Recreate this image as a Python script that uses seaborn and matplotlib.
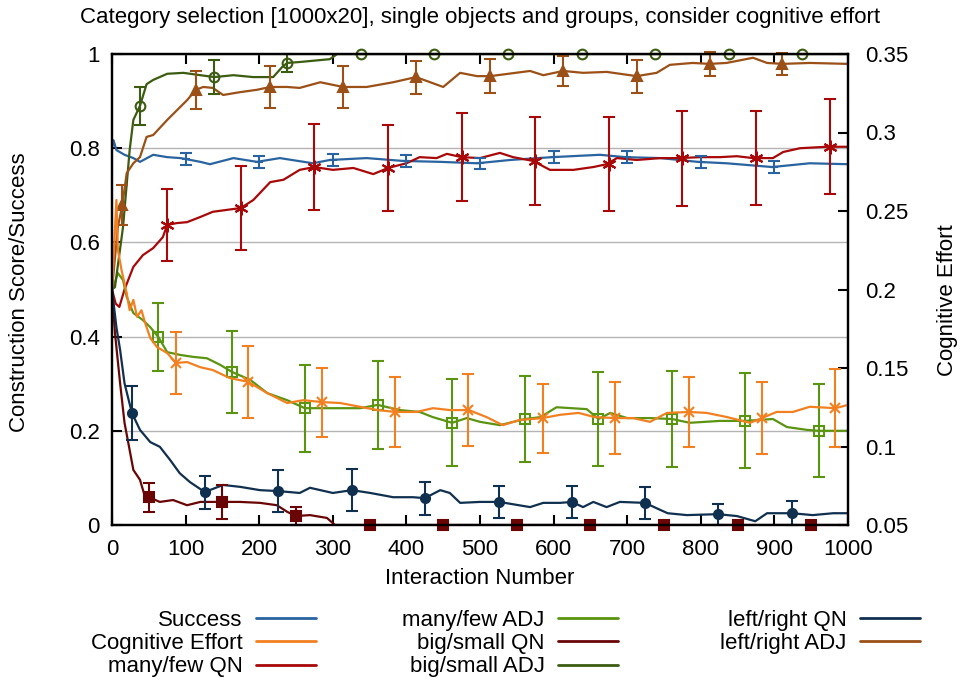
import matplotlib
matplotlib.use("Agg")
import matplotlib.pyplot as plt
from matplotlib.lines import Line2D
import seaborn as sns
import pandas as pd

sns.set_theme(style="white")
plt.rcParams['font.family'] = ['Liberation Sans', 'DejaVu Sans']
plt.rcParams['text.color'] = 'black'
plt.rcParams['axes.labelcolor'] = 'black'
FS = 16

# ---- data -------------------------------------------------------------
# Success (left axis)
success_x = [0, 2, 6, 17, 29, 38, 56, 75, 93, 100, 120, 133, 165, 197, 228, 273, 296, 346,
             395, 446, 496, 541, 598, 663, 697, 745, 796, 835, 897, 948, 1000]
success_y = [0.80, 0.817, 0.796, 0.786, 0.779, 0.771, 0.786, 0.781, 0.779, 0.777, 0.771, 0.766,
             0.779, 0.771, 0.779, 0.768, 0.775, 0.779, 0.773, 0.771, 0.768, 0.775, 0.781, 0.786,
             0.781, 0.779, 0.771, 0.768, 0.760, 0.768, 0.766]
success_px = [100, 200, 300, 400, 500, 600, 700, 800, 900]
success_py = [0.777, 0.771, 0.775, 0.773, 0.768, 0.781, 0.781, 0.771, 0.760]
success_err = [0.012, 0.012, 0.012, 0.012, 0.012, 0.012, 0.012, 0.012, 0.012]

# Cognitive effort (right axis)
effort_x = [0, 6, 8, 13, 20, 24, 29, 34, 40, 45, 52, 61, 75, 87, 102, 120, 137, 160, 185, 211,
            238, 260, 285, 310, 337, 361, 385, 414, 436, 459, 485, 509, 531, 554, 585, 609, 634,
            656, 684, 708, 731, 754, 784, 808, 836, 867, 883, 903, 925, 948, 983, 1000]
effort_y = [0.2000, 0.2570, 0.2252, 0.2123, 0.1976, 0.1868, 0.1934, 0.1826, 0.1868, 0.1787,
            0.1691, 0.1634, 0.1595, 0.1532, 0.1538, 0.1505, 0.1487, 0.1436, 0.1412, 0.1340,
            0.1277, 0.1295, 0.1283, 0.1277, 0.1253, 0.1232, 0.1220, 0.1220, 0.1244, 0.1232,
            0.1232, 0.1187, 0.1136, 0.1169, 0.1181, 0.1202, 0.1214, 0.1187, 0.1181, 0.1181,
            0.1157, 0.1214, 0.1220, 0.1214, 0.1187, 0.1151, 0.1181, 0.1220, 0.1220, 0.1253,
            0.1244, 0.1265]
effort_px = [87, 185, 285, 385, 484, 585, 684, 784, 883, 983]
effort_py = [0.1532, 0.1412, 0.1283, 0.1220, 0.1232, 0.1181, 0.1181, 0.1220, 0.1181, 0.1244]
effort_err = [0.020, 0.023, 0.022, 0.022, 0.023, 0.022, 0.023, 0.022, 0.023, 0.025]

# many/few QN
mfq_x = [0, 5, 10, 17, 29, 42, 56, 69, 75, 88, 102, 120, 137, 175, 192, 215, 233, 255, 275, 300,
         328, 355, 375, 400, 418, 441, 455, 475, 500, 527, 545, 572, 595, 627, 654, 672, 686, 713,
         745, 771, 799, 826, 849, 871, 898, 912, 935, 971, 1000]
mfq_y = [0.5, 0.47, 0.463, 0.50, 0.548, 0.573, 0.588, 0.611, 0.637, 0.641, 0.643, 0.654, 0.665,
         0.673, 0.690, 0.728, 0.733, 0.754, 0.760, 0.754, 0.758, 0.745, 0.758, 0.768, 0.781,
         0.779, 0.788, 0.781, 0.779, 0.790, 0.781, 0.773, 0.754, 0.754, 0.760, 0.766, 0.779,
         0.775, 0.779, 0.779, 0.781, 0.781, 0.783, 0.779, 0.779, 0.792, 0.800, 0.803, 0.803]
mfq_px = [75, 175, 275, 375, 475, 575, 675, 775, 875, 975]
mfq_py = [0.637, 0.673, 0.760, 0.758, 0.781, 0.773, 0.766, 0.779, 0.779, 0.803]
mfq_err = [0.077, 0.089, 0.092, 0.092, 0.094, 0.094, 0.100, 0.101, 0.100, 0.101]

# many/few ADJ
mfa_x = [0, 2, 8, 15, 20, 29, 42, 52, 63, 75, 93, 110, 129, 147, 163, 188, 211, 238, 262, 300,
         337, 361, 391, 418, 436, 462, 482, 500, 527, 561, 582, 604, 645, 661, 677, 700, 731, 761,
         785, 826, 860, 898, 917, 944, 960, 1000]
mfa_y = [0.5, 0.505, 0.535, 0.520, 0.484, 0.450, 0.435, 0.420, 0.399, 0.367, 0.361, 0.357, 0.354,
         0.340, 0.325, 0.308, 0.280, 0.265, 0.248, 0.248, 0.248, 0.255, 0.244, 0.240, 0.229,
         0.217, 0.227, 0.219, 0.212, 0.225, 0.229, 0.250, 0.246, 0.225, 0.238, 0.227, 0.227,
         0.225, 0.217, 0.221, 0.221, 0.225, 0.208, 0.202, 0.200, 0.200]
mfa_px = [63, 163, 262, 361, 462, 561, 661, 761, 860, 960]
mfa_py = [0.399, 0.325, 0.248, 0.255, 0.217, 0.225, 0.225, 0.225, 0.221, 0.200]
mfa_err = [0.072, 0.087, 0.092, 0.093, 0.092, 0.092, 0.099, 0.101, 0.101, 0.099]

# big/small QN
bsq_x = [0, 4, 11, 17, 24, 29, 38, 45, 50, 65, 83, 102, 120, 151, 174, 201, 224, 238, 250, 269,
         292, 303, 1000]
bsq_y = [0.5, 0.408, 0.301, 0.217, 0.159, 0.117, 0.096, 0.059, 0.059, 0.049, 0.053, 0.042, 0.049,
         0.049, 0.049, 0.047, 0.042, 0.028, 0.019, 0.021, 0.015, 0.0, 0.0]
bsq_px = [50, 150, 250, 350, 450, 550, 650, 750, 850, 950]
bsq_py = [0.059, 0.049, 0.019, 0.0, 0.0, 0.0, 0.0, 0.0, 0.0, 0.0]
bsq_err = [0.031, 0.036, 0.019, 0.0, 0.0, 0.0, 0.0, 0.0, 0.0, 0.0]

# big/small ADJ
bsa_x = [0, 4, 15, 24, 29, 38, 47, 56, 75, 97, 120, 139, 165, 192, 219, 231, 238, 255, 296, 306,
         1000]
bsa_y = [0.5, 0.505, 0.633, 0.796, 0.860, 0.890, 0.936, 0.945, 0.958, 0.960, 0.955, 0.951, 0.955,
         0.951, 0.951, 0.972, 0.981, 0.983, 0.989, 1.0, 1.0]
bsa_px = [38, 138, 238, 338, 438, 538, 638, 738, 838, 938]
bsa_py = [0.890, 0.951, 0.981, 1.0, 1.0, 1.0, 1.0, 1.0, 1.0, 1.0]
bsa_err = [0.040, 0.036, 0.020, 0.0, 0.0, 0.0, 0.0, 0.0, 0.0, 0.0]

# left/right QN
lrq_x = [0, 6, 11, 17, 27, 38, 52, 65, 79, 92, 106, 126, 151, 174, 201, 226, 255, 269, 300, 326,
         351, 382, 409, 425, 446, 459, 473, 500, 526, 568, 586, 609, 625, 640, 654, 672, 690, 724,
         745, 755, 781, 823, 849, 874, 890, 924, 952, 980, 1000]
lrq_y = [0.5, 0.420, 0.372, 0.301, 0.238, 0.202, 0.176, 0.166, 0.138, 0.110, 0.091, 0.070, 0.085,
         0.081, 0.074, 0.072, 0.068, 0.079, 0.068, 0.074, 0.068, 0.059, 0.059, 0.057, 0.074,
         0.068, 0.047, 0.049, 0.049, 0.038, 0.047, 0.047, 0.049, 0.038, 0.049, 0.038, 0.049,
         0.047, 0.032, 0.025, 0.021, 0.023, 0.019, 0.008, 0.025, 0.025, 0.021, 0.025, 0.025]
lrq_px = [27, 126, 226, 326, 425, 526, 625, 724, 823, 924]
lrq_py = [0.238, 0.070, 0.072, 0.074, 0.057, 0.049, 0.049, 0.047, 0.023, 0.025]
lrq_err = [0.058, 0.035, 0.044, 0.044, 0.035, 0.034, 0.034, 0.034, 0.022, 0.025]

# left/right ADJ
lra_x = [0, 8, 14, 20, 29, 38, 47, 56, 75, 93, 102, 114, 124, 137, 151, 174, 197, 215, 238, 255,
         283, 314, 346, 382, 413, 436, 450, 473, 496, 514, 568, 586, 613, 640, 672, 713, 740, 758,
         789, 812, 835, 871, 890, 911, 948, 1000]
lra_y = [0.5, 0.633, 0.679, 0.747, 0.768, 0.781, 0.824, 0.828, 0.860, 0.888, 0.902, 0.924, 0.930,
         0.928, 0.913, 0.919, 0.924, 0.930, 0.930, 0.928, 0.940, 0.930, 0.930, 0.940, 0.951,
         0.938, 0.930, 0.960, 0.953, 0.953, 0.964, 0.955, 0.964, 0.960, 0.962, 0.953, 0.960,
         0.977, 0.981, 0.979, 0.981, 0.992, 0.981, 0.979, 0.981, 0.979]
lra_px = [14, 114, 215, 314, 413, 514, 613, 713, 812, 911]
lra_py = [0.679, 0.924, 0.930, 0.930, 0.951, 0.953, 0.964, 0.953, 0.979, 0.979]
lra_err = [0.042, 0.040, 0.044, 0.044, 0.035, 0.036, 0.032, 0.035, 0.025, 0.023]

x_ticks = [0, 100, 200, 300, 400, 500, 600, 700, 800, 900, 1000]
y_ticks = [0, 0.2, 0.4, 0.6, 0.8, 1]
y_ticklabels = ["0", "0.2", "0.4", "0.6", "0.8", "1"]
y2_ticks = [0.05, 0.1, 0.15, 0.2, 0.25, 0.3, 0.35]
y2_ticklabels = ["0.05", "0.1", "0.15", "0.2", "0.25", "0.3", "0.35"]

# ---- styles -------------------------------------------------------------
series = [
    # label, x, y, marker x, marker y, err, color, marker, filled, ms, axis
    ("Success", success_x, success_y, success_px, success_py, success_err, "#2a64a0", "_", True, 6, "left"),
    ("Cognitive Effort", effort_x, effort_y, effort_px, effort_py, effort_err, "#f28021", "x", True, 7, "right"),
    ("many/few QN", mfq_x, mfq_y, mfq_px, mfq_py, mfq_err, "#a80808", (6, 2, 0), True, 10, "left"),
    ("many/few ADJ", mfa_x, mfa_y, mfa_px, mfa_py, mfa_err, "#5b9410", "s", False, 6.5, "left"),
    ("big/small QN", bsq_x, bsq_y, bsq_px, bsq_py, bsq_err, "#6a0505", "s", True, 6.5, "left"),
    ("big/small ADJ", bsa_x, bsa_y, bsa_px, bsa_py, bsa_err, "#3c5c12", "o", False, 7, "left"),
    ("left/right QN", lrq_x, lrq_y, lrq_px, lrq_py, lrq_err, "#10304f", "o", True, 6.5, "left"),
    ("left/right ADJ", lra_x, lra_y, lra_px, lra_py, lra_err, "#9a5016", "^", True, 7, "left"),
]

W, H = 961, 680
fig = plt.figure(figsize=(W / 100, H / 100), dpi=100)
ax = fig.add_axes([112 / W, 1 - 525 / H, 736 / W, 471 / H])
ax2 = ax.twinx()

for label, xs, ys, pxs, pys, errs, color, marker, filled, ms, side in series:
    target = ax2 if side == "right" else ax
    df = pd.DataFrame({"x": xs, "y": ys})
    sns.lineplot(data=df, x="x", y="y", ax=target, color=color, lw=1.6, sort=False,
                 legend=False, zorder=3)
    target.errorbar(pxs, pys, yerr=errs, fmt="none", ecolor=color, elinewidth=1.5,
                    capsize=4, capthick=1.5, zorder=4, clip_on=False)
    mk = dict(marker=marker, linestyle="none", color=color, ms=ms, zorder=5, clip_on=False,
              mew=1.5)
    if not filled:
        mk["mfc"] = "none"
    target.plot(pxs, pys, **mk)

# ---- axes ---------------------------------------------------------------
ax.set_xlim(0, 1000)
ax.set_ylim(0, 1)
ax2.set_ylim(0.05, 0.35)
ax.set_xticks(x_ticks)
ax.set_xticklabels([str(t) for t in x_ticks], fontsize=FS)
ax.set_yticks(y_ticks)
ax.set_yticklabels(y_ticklabels, fontsize=FS)
ax2.set_yticks(y2_ticks)
ax2.set_yticklabels(y2_ticklabels, fontsize=FS)

ax.yaxis.grid(True, color="#b4b4b4", lw=1.0)
ax.xaxis.grid(False)
ax.set_axisbelow(True)

ax.tick_params(axis="x", direction="in", length=7, width=1.5, top=True, bottom=True,
               pad=10, colors="black", labelcolor="black")
ax.tick_params(axis="y", direction="in", length=7, width=1.5, left=True, right=False,
               pad=9, colors="black")
ax2.tick_params(axis="y", direction="in", length=7, width=1.5, right=True, left=False,
                pad=12, colors="black")

for a in (ax, ax2):
    for s in a.spines.values():
        s.set_linewidth(1.6)
        s.set_color("black")
        s.set_zorder(10)

ax.set_xlabel("")
ax.set_ylabel("")
ax2.set_ylabel("")
fig.text(480 / W, 1 - 579 / H, "Interaction Number", ha="center", va="center", fontsize=FS)
fig.text(20 / W, 1 - 292 / H, "Construction Score/Success", ha="center", va="center",
         rotation=90, fontsize=FS)
fig.text(948 / W, 1 - 300 / H, "Cognitive Effort", ha="center", va="center",
         rotation=90, fontsize=FS)
fig.text(480 / W, 1 - 17 / H,
         "Category selection [1000x20], single objects and groups, consider cognitive effort",
         ha="center", va="center", fontsize=FS)

# ---- legend: three right-aligned columns ---------------------------------
handles = [Line2D([], [], color=s[6], lw=2) for s in series]
labels = [s[0] for s in series]
columns = [(0, 3, 316), (3, 6, 618), (6, 8, 920)]
for start, stop, xr in columns:
    leg = fig.legend(handles[start:stop], labels[start:stop], loc="upper right",
                     bbox_to_anchor=(xr / W, 1 - 610 / H), frameon=False, markerfirst=False,
                     fontsize=FS, handlelength=2.7, handletextpad=0.6, borderpad=0,
                     borderaxespad=0, labelspacing=0.1)
    for t in leg.get_texts():
        t.set_color("black")

fig.savefig("out.png", dpi=100)
